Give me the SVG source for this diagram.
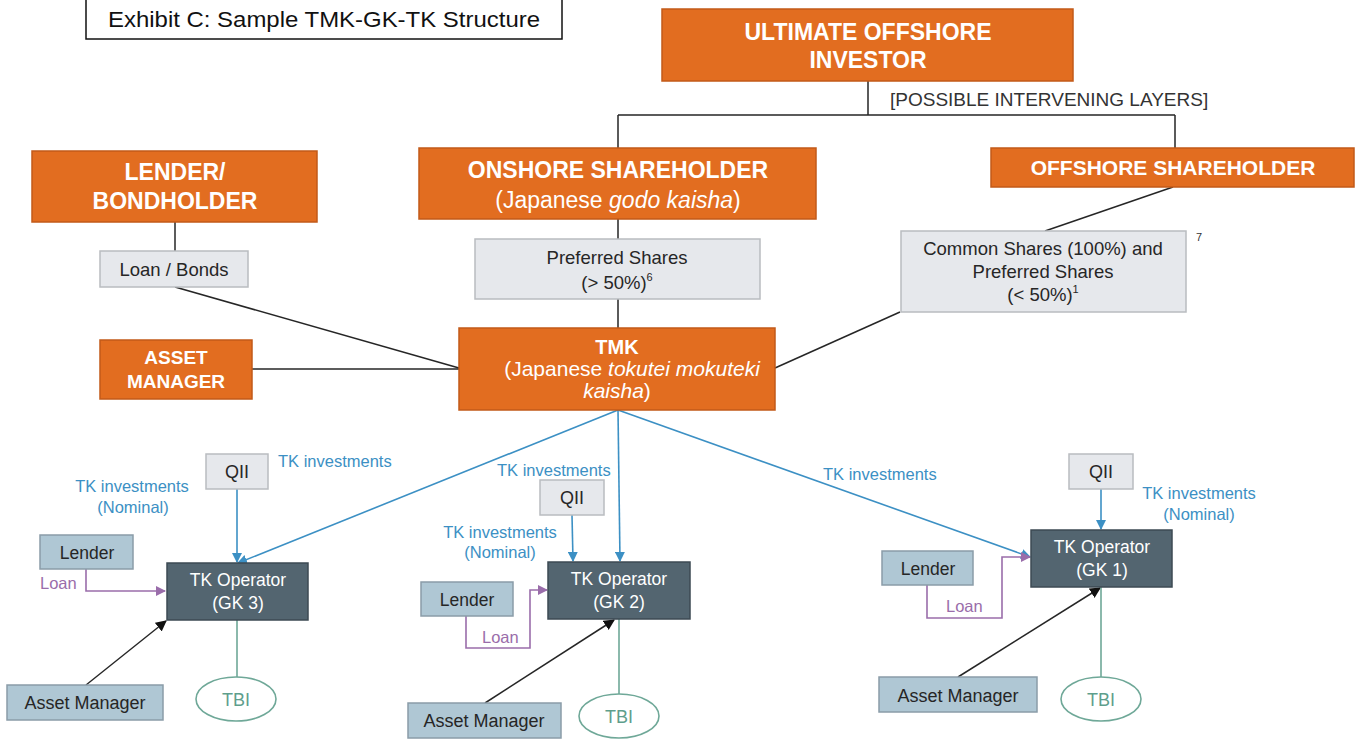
<svg xmlns="http://www.w3.org/2000/svg" width="1362" height="742" viewBox="0 0 1362 742">
<style>
text{font-family:"Liberation Sans",Arial,sans-serif}
.org{fill:#E26D20;stroke:#C25A18;stroke-width:1.5}
.ow{fill:#fff;font-weight:bold;text-anchor:middle}
.owr{fill:#fff;text-anchor:middle}
.gry{fill:#E6E8EC;stroke:#B9BCC0;stroke-width:1.5}
.lb{fill:#AFC7D4;stroke:#8A9CA8;stroke-width:1.5}
.gk{fill:#536570;stroke:#3D4A53;stroke-width:1.5}
.dk{fill:#262626;text-anchor:middle}
.bl{fill:#3C90C4}
.pu{fill:#9A6DAA}
.tl{fill:#5E9E8C}
.c{text-anchor:middle}
.k{fill:none;stroke:#262626;stroke-width:1.5}
.b{fill:none;stroke:#3C90C4;stroke-width:1.6}
.p{fill:none;stroke:#9A6DAA;stroke-width:1.6}
.t{fill:none;stroke:#6FA898;stroke-width:1.6}
</style>
<defs>
<marker id="ab" viewBox="0 0 10 10" refX="9" refY="5" markerWidth="10" markerHeight="10" markerUnits="userSpaceOnUse" orient="auto"><path d="M0,0L10,5L0,10z" fill="#3C90C4"/></marker>
<marker id="ap" viewBox="0 0 10 10" refX="9" refY="5" markerWidth="10" markerHeight="10" markerUnits="userSpaceOnUse" orient="auto"><path d="M0,0L10,5L0,10z" fill="#9A6DAA"/></marker>
<marker id="ak" viewBox="0 0 10 10" refX="9" refY="5" markerWidth="11" markerHeight="11" markerUnits="userSpaceOnUse" orient="auto"><path d="M0,0L10,5L0,10z" fill="#111"/></marker>
</defs>
<rect width="1362" height="742" fill="#fff"/>

<g id="connectors">
<path class="k" d="M868,81V115M618,115H1175M618,115V148M1175,115V148"/>
<path class="k" d="M175,222V251"/>
<path class="k" d="M618,219V239M618,299V328"/>
<path class="k" d="M1173,187L1045,231"/>
<path class="k" d="M900,312L775,368"/>
<path class="k" d="M252,369H459"/>
<path class="k" d="M175,287L459,368"/>
<path class="b" d="M618,410L238,563" marker-end="url(#ab)"/>
<path class="b" d="M618,410L620,561" marker-end="url(#ab)"/>
<path class="b" d="M618,410L1030,557" marker-end="url(#ab)"/>
<path class="b" d="M237,489V562" marker-end="url(#ab)"/>
<path class="b" d="M572,515L573,561" marker-end="url(#ab)"/>
<path class="b" d="M1101,489V529" marker-end="url(#ab)"/>
<path class="p" d="M86,569V591H165" marker-end="url(#ap)"/>
<path class="p" d="M466,616V648H530V590H547" marker-end="url(#ap)"/>
<path class="p" d="M927,585V618H1002V557H1030" marker-end="url(#ap)"/>
<path class="k" d="M86,685L166,621" marker-end="url(#ak)"/>
<path class="k" d="M485,703L614,620" marker-end="url(#ak)"/>
<path class="k" d="M958,677L1100,588" marker-end="url(#ak)"/>
<path class="t" d="M237,620V677M619,619V694M1101,587V677"/>
<text x="890" y="106" font-size="19" fill="#333">[POSSIBLE INTERVENING LAYERS]</text>
<text x="278" y="467" font-size="16.5" class="bl">TK investments</text>
<text x="497" y="476" font-size="16.5" class="bl">TK investments</text>
<text x="823" y="480" font-size="16.5" class="bl">TK investments</text>
<text x="132" y="492" font-size="16.5" class="bl c">TK investments</text>
<text x="133" y="513" font-size="16.5" class="bl c">(Nominal)</text>
<text x="500" y="538" font-size="16.5" class="bl c">TK investments</text>
<text x="500" y="558" font-size="16.5" class="bl c">(Nominal)</text>
<text x="1199" y="499" font-size="16.5" class="bl c">TK investments</text>
<text x="1199" y="520" font-size="16.5" class="bl c">(Nominal)</text>
<text x="40" y="589" font-size="16.5" class="pu">Loan</text>
<text x="482" y="643" font-size="16.5" class="pu">Loan</text>
<text x="946" y="612" font-size="16.5" class="pu">Loan</text>
</g>

<g id="title">
<rect x="86" y="-1" width="476" height="40" fill="#fff" stroke="#111" stroke-width="1.5"/>
<text x="324" y="27" font-size="22" class="c" fill="#111" textLength="432" lengthAdjust="spacingAndGlyphs">Exhibit C: Sample TMK-GK-TK Structure</text>
</g>

<g id="ultimate">
<rect class="org" x="662" y="9" width="411" height="72"/>
<text x="868" y="40" font-size="23" class="ow">ULTIMATE OFFSHORE</text>
<text x="868" y="68" font-size="23" class="ow">INVESTOR</text>
</g>

<g id="lender-bondholder">
<rect class="org" x="32" y="151" width="285" height="71"/>
<text x="175" y="180" font-size="23" class="ow">LENDER/</text>
<text x="175" y="209" font-size="23" class="ow">BONDHOLDER</text>
</g>

<g id="onshore">
<rect class="org" x="419" y="148" width="397" height="71"/>
<text x="618" y="178" font-size="23" class="ow">ONSHORE SHAREHOLDER</text>
<text x="618" y="208" font-size="23" class="owr">(Japanese <tspan font-style="italic">godo kaisha</tspan>)</text>
</g>

<g id="offshore">
<rect class="org" x="991" y="148" width="363" height="39"/>
<text x="1173" y="175" font-size="21" class="ow">OFFSHORE SHAREHOLDER</text>
</g>

<g id="loan-bonds">
<rect class="gry" x="100" y="251" width="148" height="36"/>
<text x="174" y="276" font-size="18.5" class="dk">Loan / Bonds</text>
</g>

<g id="preferred">
<rect class="gry" x="475" y="239" width="285" height="60"/>
<text x="617" y="264" font-size="18.5" class="dk">Preferred Shares</text>
<text x="617" y="289" font-size="18.5" class="dk">(&gt; 50%)<tspan font-size="11" dy="-8">6</tspan></text>
</g>

<g id="common">
<rect class="gry" x="901" y="231" width="285" height="81"/>
<text x="1043" y="255" font-size="18.5" class="dk">Common Shares (100%) and</text>
<text x="1043" y="278" font-size="18.5" class="dk">Preferred Shares</text>
<text x="1043" y="301" font-size="18.5" class="dk">(&lt; 50%)<tspan font-size="11" dy="-8">1</tspan></text>
<text x="1196" y="241" font-size="11" fill="#333">7</text>
</g>

<g id="asset-manager-top">
<rect class="org" x="100" y="340" width="152" height="59"/>
<text x="176" y="364" font-size="19" class="ow">ASSET</text>
<text x="176" y="388" font-size="19" class="ow">MANAGER</text>
</g>

<g id="tmk">
<rect class="org" x="459" y="328" width="316" height="82"/>
<text x="617" y="354" font-size="20" class="ow">TMK</text>
<text x="632" y="376" font-size="21" class="owr">(Japanese <tspan font-style="italic">tokutei mokuteki</tspan></text>
<text x="617" y="398" font-size="21" class="owr"><tspan font-style="italic">kaisha</tspan>)</text>
</g>

<g id="qii-3"><rect class="gry" x="206" y="454" width="62" height="35"/><text x="237" y="478" font-size="18" class="dk">QII</text></g>
<g id="qii-2"><rect class="gry" x="540" y="480" width="64" height="35"/><text x="572" y="504" font-size="18" class="dk">QII</text></g>
<g id="qii-1"><rect class="gry" x="1069" y="454" width="64" height="35"/><text x="1101" y="478" font-size="18" class="dk">QII</text></g>

<g id="gk-3"><rect class="gk" x="167" y="563" width="141" height="57"/><text x="238" y="586" font-size="17.5" class="owr">TK Operator</text><text x="238" y="609" font-size="17.5" class="owr">(GK 3)</text></g>
<g id="gk-2"><rect class="gk" x="548" y="562" width="142" height="57"/><text x="619" y="585" font-size="17.5" class="owr">TK Operator</text><text x="619" y="608" font-size="17.5" class="owr">(GK 2)</text></g>
<g id="gk-1"><rect class="gk" x="1031" y="530" width="141" height="57"/><text x="1102" y="553" font-size="17.5" class="owr">TK Operator</text><text x="1102" y="576" font-size="17.5" class="owr">(GK 1)</text></g>

<g id="lender-3"><rect class="lb" x="40" y="535" width="93" height="34"/><text x="87" y="559" font-size="17.5" class="dk">Lender</text></g>
<g id="lender-2"><rect class="lb" x="421" y="582" width="92" height="34"/><text x="467" y="606" font-size="17.5" class="dk">Lender</text></g>
<g id="lender-1"><rect class="lb" x="882" y="551" width="91" height="34"/><text x="928" y="575" font-size="17.5" class="dk">Lender</text></g>

<g id="am-3"><rect class="lb" x="7" y="685" width="156" height="35"/><text x="85" y="709" font-size="18" class="dk">Asset Manager</text></g>
<g id="am-2"><rect class="lb" x="408" y="703" width="153" height="35"/><text x="484" y="727" font-size="18" class="dk">Asset Manager</text></g>
<g id="am-1"><rect class="lb" x="879" y="677" width="158" height="35"/><text x="958" y="702" font-size="18" class="dk">Asset Manager</text></g>

<g id="tbi-3"><ellipse cx="236" cy="699" rx="40" ry="22" fill="#fff" stroke="#6FA898" stroke-width="1.6"/><text x="236" y="706" font-size="18" class="tl c">TBI</text></g>
<g id="tbi-2"><ellipse cx="619" cy="716" rx="40" ry="22" fill="#fff" stroke="#6FA898" stroke-width="1.6"/><text x="619" y="723" font-size="18" class="tl c">TBI</text></g>
<g id="tbi-1"><ellipse cx="1101" cy="699" rx="40" ry="22" fill="#fff" stroke="#6FA898" stroke-width="1.6"/><text x="1101" y="706" font-size="18" class="tl c">TBI</text></g>
</svg>
